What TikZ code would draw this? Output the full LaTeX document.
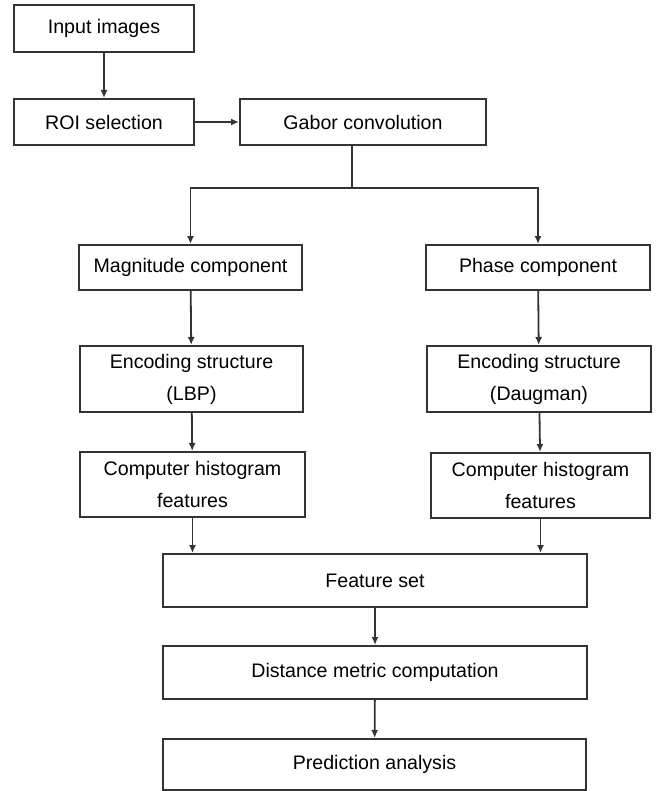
\documentclass[tikz,border=0pt]{standalone}
\usepackage{fontspec}
\setmainfont{Liberation Sans}
\usetikzlibrary{arrows.meta}
\tikzset{
  stage/.style={draw=black!80, line width=1pt, align=center, inner sep=0pt,
    font=\fontsize{9.8}{16}\selectfont},
  link/.style={draw=black!80, line width=0.9pt, -{Latex[length=4pt,width=3.5pt]}}
}
\begin{document}
\begin{tikzpicture}[x=0.5pt, y=-0.5pt]
                \useasboundingbox (0,0) rectangle (661,791);
                % top row
                \node[stage, minimum width=90pt, minimum height=23.5pt] (inp) at (104,28.5) {Input images};
                \node[stage, minimum width=90pt, minimum height=23pt] (roi) at (104,122) {ROI selection};
                \node[stage, minimum width=123pt, minimum height=23pt] (gabor) at (363,122) {Gabor convolution};
                % left branch
                \node[stage, minimum width=111.5pt, minimum height=22.5pt] (mag) at (190.5,267.5) {Magnitude component};
                \node[stage, minimum width=111.5pt, minimum height=33pt] (lbp) at (191.5,379) {Encoding structure\\(LBP)};
                \node[stage, minimum width=112.5pt, minimum height=32.5pt] (histl) at (192.5,484.5) {Computer histogram\\features};
                % right branch
                \node[stage, minimum width=112pt, minimum height=22.5pt] (phase) at (538,267.5) {Phase component};
                \node[stage, minimum width=112pt, minimum height=33pt] (daug) at (539,379) {Encoding structure\\(Daugman)};
                \node[stage, minimum width=109.5pt, minimum height=32.5pt] (histr) at (540.5,485.5) {Computer histogram\\features};
                % bottom rows
                \node[stage, minimum width=212pt, minimum height=26.5pt] (fset) at (375,580.5) {Feature set};
                \node[stage, minimum width=212pt, minimum height=26.5pt] (dist) at (375,672.5) {Distance metric computation};
                \node[stage, minimum width=211.5pt, minimum height=25.5pt] (pred) at (374.5,764.5) {Prediction analysis};
                \coordinate (split) at (352,188);
                % connectors
                \draw[link] (inp) -- (roi);
                \draw[link] (roi) -- (gabor);
                \draw[draw=black!80, line width=0.9pt] (gabor.south -| split) -- (split);
                \draw[link] (split) -| (mag.north);
                \draw[link] (split) -| (phase.north);
                \draw[link] (mag) -- (lbp);
                \draw[link] (lbp) -- (histl);
                \draw[link] (phase) -- (daug);
                \draw[link] (daug) -- (histr);
                \draw[link] (histl.south) -- (fset.north -| histl.south);
                \draw[link] (histr.south) -- (fset.north -| histr.south);
                \draw[link] (fset) -- (dist);
                \draw[link] (dist) -- (pred);
            \end{tikzpicture}
\end{document}
